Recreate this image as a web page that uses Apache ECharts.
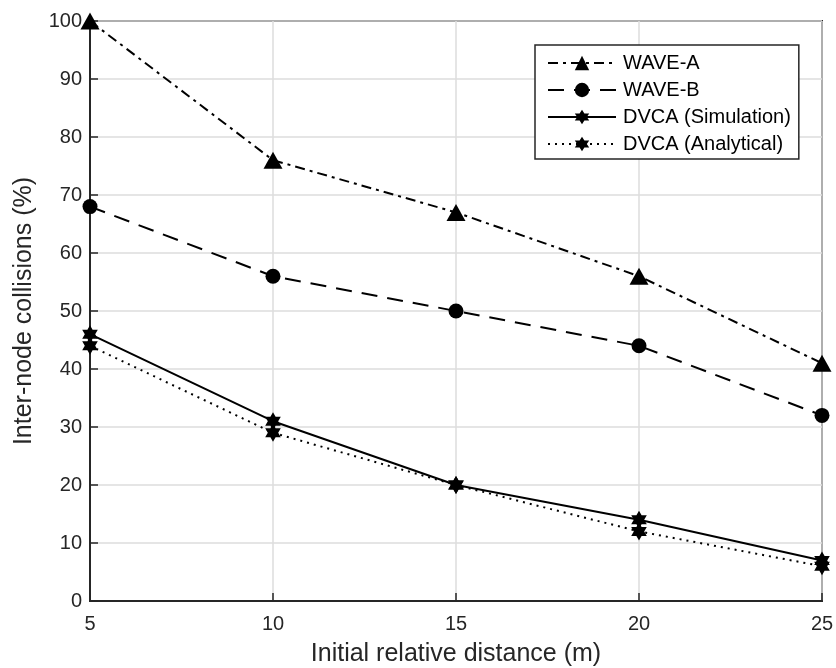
<!doctype html>
<html>
<head>
<meta charset="utf-8">
<title>collisions</title>
<script src="https://cdn.jsdelivr.net/npm/echarts@6/dist/echarts.min.js"></script>
<style> html, body, #main {width: 100%; height: 100%; margin: 0; background: #fff;} </style>
</head>
<body>
<div id="main"></div>
<script>
var distances = [5, 10, 15, 20, 25];
var waveA = [100, 76, 67, 56, 41];
var waveB = [68, 56, 50, 44, 32];
var dvcaSim = [46, 31, 20, 14, 7];
var dvcaAna = [44, 29, 20, 12, 6];
var seriesNames = ['WAVE-A', 'WAVE-B', 'DVCA (Simulation)', 'DVCA (Analytical)'];

// six-pointed star (matlab 'h')
var hexagram = 'path://M0,-10L2.887,-5L8.66,-5L5.774,0L8.66,5L2.887,5L0,10L-2.887,5L-8.66,5L-5.774,0L-8.66,-5L-2.887,-5Z';

function pairs(ys) {
    return distances.map(function (x, i) { return [x, ys[i]]; });
}

function mk(name, ys, symbol, size, dash) {
    return {
        name: name,
        type: 'line',
        data: pairs(ys),
        symbol: symbol,
        symbolSize: size,
        symbolKeepAspect: true,
        showAllSymbol: true,
        clip: false,
        lineStyle: { color: '#000', width: 2, type: dash },
        itemStyle: { color: '#000', borderColor: '#000', borderWidth: 0 },
        emphasis: { disabled: true },
        animation: false
    };
}

var font = 'Liberation Sans, Arial, sans-serif';
var c = echarts.init(document.getElementById('main'));
c.setOption({
    backgroundColor: '#fff',
    grid: {
        left: 90, right: 14, top: 21, bottom: 67,
        outerBoundsMode: 'none', containLabel: false,
        show: true, borderColor: '#262626', borderWidth: 2, backgroundColor: 'transparent'
    },
    legend: {
        orient: 'vertical',
        left: 535, top: 45,
        data: seriesNames,
        backgroundColor: '#fff',
        borderColor: '#262626', borderWidth: 1.5, borderRadius: 0,
        padding: [8, 8, 5, 12],
        itemWidth: 68, itemHeight: 18, itemGap: 7,
        textStyle: { fontFamily: font, fontSize: 20, color: '#000', padding: [0, 0, 0, 2] }
    },
    xAxis: {
        type: 'value', min: 5, max: 25, interval: 5,
        name: 'Initial relative distance (m)', nameLocation: 'middle', nameGap: 41,
        nameTextStyle: { fontFamily: font, fontSize: 25, color: '#262626' },
        axisLine: { lineStyle: { color: '#262626', width: 2 } },
        axisTick: { inside: true, length: 8, lineStyle: { color: '#262626', width: 1.5 } },
        axisLabel: { margin: 13, fontFamily: font, fontSize: 20, color: '#262626' },
        splitLine: { show: true, lineStyle: { color: '#dcdcdc', width: 1.5 } }
    },
    yAxis: {
        type: 'value', min: 0, max: 100, interval: 10,
        name: 'Inter-node collisions (%)', nameLocation: 'middle', nameGap: 53,
        nameTextStyle: { fontFamily: font, fontSize: 25, color: '#262626' },
        axisLine: { show: true, lineStyle: { color: '#262626', width: 2 } },
        axisTick: { show: true, inside: true, length: 8, lineStyle: { color: '#262626', width: 1.5 } },
        axisLabel: { margin: 8, fontFamily: font, fontSize: 20, color: '#262626' },
        splitLine: { show: true, lineStyle: { color: '#dcdcdc', width: 1.5 } }
    },
    series: [
        mk(seriesNames[0], waveA, 'triangle', [19, 17], [10, 5, 3, 5]),
        mk(seriesNames[1], waveB, 'circle', 15, [16, 10]),
        mk(seriesNames[2], dvcaSim, hexagram, 18, 'solid'),
        mk(seriesNames[3], dvcaAna, hexagram, 18, [2, 5])
    ]
});
</script>
</body>
</html>
